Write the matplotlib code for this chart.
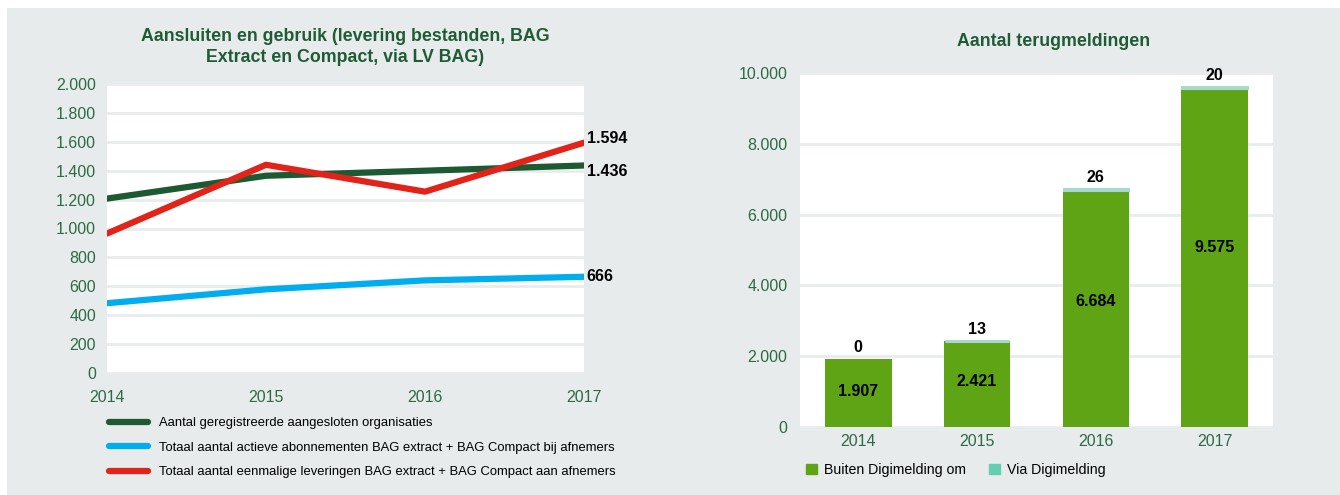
import matplotlib.pyplot as plt
from matplotlib.patches import Rectangle
from matplotlib.lines import Line2D

plt.rcParams['font.family'] = ['Liberation Sans', 'DejaVu Sans']

# left chart data
years = [2014, 2015, 2016, 2017]
organisaties = [1207, 1365, 1400, 1436]
abonnementen = [483, 579, 641, 666]
leveringen = [965, 1441, 1255, 1594]

# right chart data
bar_years = ['2014', '2015', '2016', '2017']
buiten = [1907, 2421, 6684, 9575]
via = [0, 13, 26, 20]

BG = '#e7ebeb'
GRID = '#e8ecec'
TXT_GREEN = '#2c6a48'
TITLE_GREEN = '#1f5b35'


def fmt(v):
    return f'{v:,}'.replace(',', '.')


fig = plt.figure(figsize=(13.4, 4.95), dpi=100)
fig.patch.set_facecolor('white')
fig.patches.append(Rectangle((7 / 1340, 0), 1 - 7 / 1340, 1 - 8 / 495,
                             transform=fig.transFigure, facecolor=BG,
                             edgecolor='none', zorder=-10))

# ---- left: line chart ----
ax = fig.add_axes([107 / 1340, 1 - 373 / 495, (584 - 107) / 1340, (373 - 84) / 495])
ax.set_facecolor('white')
ax.plot(years, organisaties, color='#1d5a32', lw=4.5, solid_capstyle='round', zorder=3)
ax.plot(years, abonnementen, color='#00aeef', lw=4.5, solid_capstyle='round', zorder=3)
ax.plot(years, leveringen, color='#e2231a', lw=4.5, solid_capstyle='round', zorder=4)
ax.set_xlim(2014, 2017)
ax.set_ylim(0, 2000)
ax.set_yticks(range(0, 2001, 200))
ax.set_yticklabels([fmt(v) for v in range(0, 2001, 200)])
ax.set_xticks(years)
ax.set_xticklabels([str(y) for y in years])
ax.tick_params(length=0, labelsize=11.5, labelcolor=TXT_GREEN, pad=8)
ax.tick_params(axis='x', pad=12)
for s in ax.spines.values():
    s.set_visible(False)
ax.yaxis.grid(True, color=GRID, lw=2)
ax.set_axisbelow(True)
for vals, dy in [(leveringen, 3), (organisaties, -4), (abonnementen, 0)]:
    ax.annotate(fmt(vals[-1]), (years[-1], vals[-1]), xytext=(2, dy),
                textcoords='offset points', va='center', ha='left',
                fontsize=11.5, fontweight='bold', color='black', annotation_clip=False)
fig.text(345 / 1340, 1 - 47 / 495,
         'Aansluiten en gebruik (levering bestanden, BAG\nExtract en Compact, via LV BAG)',
         ha='center', va='center', fontsize=12.8, fontweight='bold',
         color=TITLE_GREEN, linespacing=1.3)

handles = [Line2D([0], [0], color='#1d5a32', lw=4.5, solid_capstyle='round'),
           Line2D([0], [0], color='#00aeef', lw=4.5, solid_capstyle='round'),
           Line2D([0], [0], color='#e2231a', lw=4.5, solid_capstyle='round')]
labels = ['Aantal geregistreerde aangesloten organisaties',
          'Totaal aantal actieve abonnementen BAG extract + BAG Compact bij afnemers',
          'Totaal aantal eenmalige leveringen BAG extract + BAG Compact aan afnemers']
fig.legend(handles, labels, loc='upper left', bbox_to_anchor=(104 / 1340, 1 - 412 / 495),
           frameon=False, fontsize=9.4, handlelength=3.0, handletextpad=0.8,
           labelspacing=0.95, borderaxespad=0)

# ---- right: stacked bars ----
bx = fig.add_axes([800 / 1340, 1 - 427 / 495, (1273 - 800) / 1340, (427 - 73) / 495])
bx.set_facecolor('white')
x = range(len(bar_years))
bx.bar(x, buiten, width=0.56, color='#5fa414', zorder=3)
bx.bar(x, via, bottom=buiten, width=0.545, color='#a9d9cc',
       edgecolor='#a9d9cc', linewidth=[0 if v == 0 else 2.2 for v in via], zorder=3)
bx.set_xlim(-0.49, 3.49)
bx.set_ylim(0, 10000)
bx.set_yticks(range(0, 10001, 2000))
bx.set_yticklabels([fmt(v) for v in range(0, 10001, 2000)])
bx.set_xticks(list(x))
bx.set_xticklabels(bar_years)
bx.tick_params(length=0, labelsize=11.5, labelcolor=TXT_GREEN, pad=9)
bx.tick_params(axis='x', pad=5)
for s in bx.spines.values():
    s.set_visible(False)
bx.yaxis.grid(True, color=GRID, lw=2)
bx.set_axisbelow(True)
for i in x:
    bx.text(i, buiten[i] * 0.53, fmt(buiten[i]), ha='center', va='center',
            fontsize=11.5, fontweight='bold', color='black', zorder=5)
    bx.annotate(str(via[i]), (i, buiten[i] + via[i]), xytext=(0, 3),
                textcoords='offset points', ha='center', va='bottom',
                fontsize=11.5, fontweight='bold', color='black', annotation_clip=False)
fig.text(1054 / 1340, 1 - 42 / 495, 'Aantal terugmeldingen', ha='center', va='center',
         fontsize=12.8, fontweight='bold', color=TITLE_GREEN)

bar_handles = [Rectangle((0, 0), 1, 1, color='#5fa414'),
               Rectangle((0, 0), 1, 1, color='#66cdb0')]
fig.legend(bar_handles, ['Buiten Digimelding om', 'Via Digimelding'], loc='center left',
           bbox_to_anchor=(800 / 1340, 1 - 470 / 495), ncol=2, frameon=False,
           fontsize=10.2, handlelength=0.8, handleheight=0.8, handletextpad=0.5,
           columnspacing=1.6, borderaxespad=0)

fig.savefig('out.png', dpi=100, facecolor=fig.get_facecolor())
